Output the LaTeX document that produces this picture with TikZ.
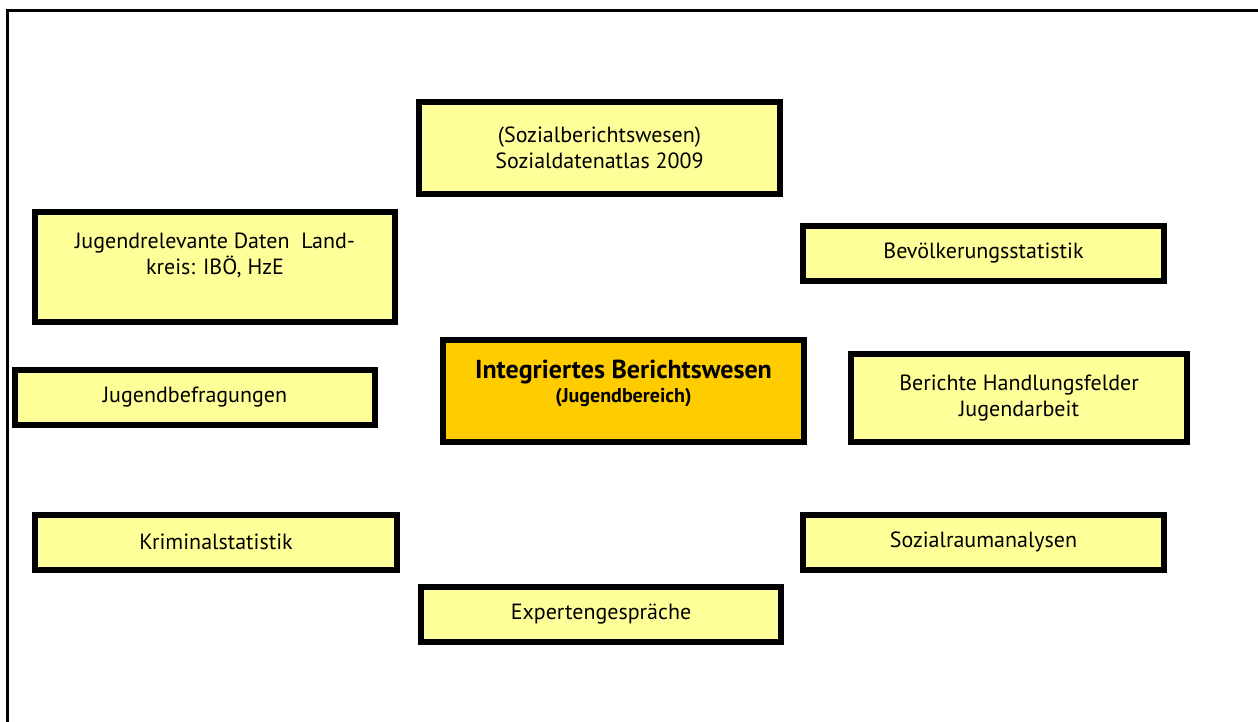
\documentclass[tikz,border=0pt]{standalone}
\usepackage{fontspec}
\setmainfont{PT Sans}
\definecolor{paleyellow}{HTML}{FFFF99}
\definecolor{deepyellow}{HTML}{FFCC00}
\tikzset{
	infobox/.style={draw=black, line width=6pt, fill=paleyellow, align=center, inner sep=0pt,
		font=\fontsize{22}{26}\selectfont, minimum height=#1},
	infobox/.default=55pt,
	corebox/.style={infobox=102pt, fill=deepyellow, font=\fontsize{26}{24}\selectfont\bfseries}
}

\begin{document}
\begin{tikzpicture}[x=1pt, y=-1pt]
			%%%%% START %%%%%
			\useasboundingbox (0, 0) rectangle (1258, 722);
			
			\draw[line width=2.5pt] (7.5, 722) -- (7.5, 10.5) -- (1258, 10.5);
			
			\node[corebox, minimum width=361pt] (integriert) at (623.5, 391)
				{Integriertes Berichtswesen\\{\fontsize{20}{23}\selectfont(Jugendbereich)}\\[-4pt]~};
			
			\node[infobox=92pt, minimum width=361pt] (sozialatlas) at (599.5, 148)
				{(Sozialberichtswesen)\\Sozialdatenatlas 2009};
			\node[infobox=110pt, minimum width=360pt] (jugenddaten) at (215, 267)
				{Jugendrelevante Daten\ \ Land-\\kreis: IBÖ, HzE\\~};
			\node[infobox, minimum width=361pt] (bevoelkerung) at (983.5, 253.5) {Bevölkerungsstatistik};
			\node[infobox, minimum width=360pt] (befragung) at (195, 397.5) {Jugendbefragungen};
			\node[infobox=88pt, minimum width=336pt] (handlungsfelder) at (1019, 398)
				{Berichte Handlungsfelder\\Jugendarbeit};
			
			\node[infobox, minimum width=362pt] (kriminal) at (216, 542) {Kriminalstatistik};
			\node[infobox, minimum width=361pt] (sozialraum) at (983.5, 542) {Sozialraumanalysen};
			\node[infobox, minimum width=360pt] (experten) at (601, 614) {Expertengespräche};
			%%%%% END %%%%%
\end{tikzpicture}
\end{document}
